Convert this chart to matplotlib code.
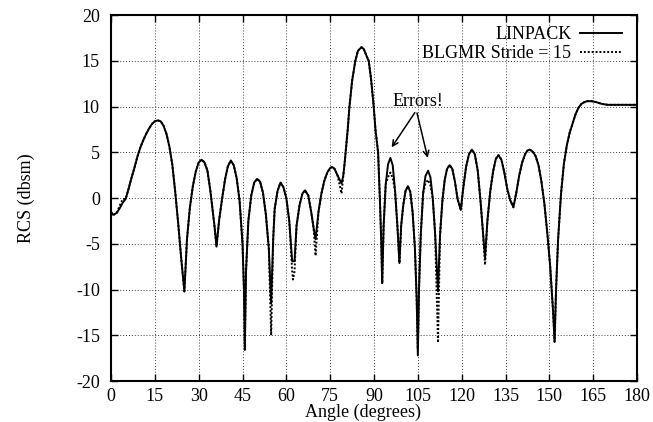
import numpy as np
import matplotlib
matplotlib.use("Agg")
import matplotlib.pyplot as plt

# angle (deg) / RCS (dbsm)
angle = [0, 0.6, 1, 2, 3, 4, 5, 6, 7, 8, 9, 10, 11, 12, 13, 14, 15, 16, 17, 18,
         19, 20, 21, 22, 23, 24, 25.1,
         26, 27, 28, 29, 30, 31, 32, 33, 34, 35, 35.5, 36.1,
         37, 38, 39, 40, 41, 42, 43, 44, 45, 45.5, 45.8,
         46.2, 47, 48, 49, 50, 51, 52, 53, 54, 54.8,
         55.5, 56, 57, 58, 59, 60, 61, 62.0, 62.3, 62.8,
         63.5, 64.5, 65.5, 66.4, 67.5, 68.5, 69.3, 70,
         71, 72, 73, 74, 75, 75.7, 76.5, 77.5, 78.9,
         79.5, 80, 81, 81.6, 82.5, 83.6, 84.5, 85.7, 86.5, 87.5, 88.2, 89, 89.9,
         90.5, 91.4, 92, 92.5, 92.8,
         93.3, 94, 94.8, 95.6, 96.4, 97.2, 98, 98.7,
         99.3, 100, 100.8, 101.6, 102.4, 103.2, 104, 104.6, 105,
         105.4, 106, 106.8, 107.6, 108.5, 109.3, 110.1, 110.9, 111.9,
         112.6, 113.4, 114.2, 115, 115.9, 116.8, 117.7, 118.6, 119.7,
         120.5, 121.5, 122.5, 123.5, 124.5, 125.5, 126.5, 127.3, 128,
         128.8, 129.8, 130.8, 131.7, 132.6, 133.6, 134.6, 135.6, 136.6, 137.7,
         138.7, 139.7, 140.7, 141.7, 142.5, 143.3, 144.3, 145.3, 146.3, 147.3,
         148.3, 149.3, 150.3, 151.3, 151.8,
         152.3, 153, 154, 155, 156, 157, 158, 159, 160, 161, 162, 163, 164.4,
         166, 168, 170, 175, 180]

linpack = [-1.5, -1.8, -1.8, -1.6, -1.1, -0.5, -0.1, 1.0, 2.2, 3.3, 4.5, 5.5, 6.3, 7.0, 7.6, 8.1, 8.4, 8.5, 8.4, 7.9,
           7.0, 5.6, 3.6, 0.6, -2.8, -6.5, -10.2,
           -4.5, -1.0, 1.3, 2.9, 3.9, 4.2, 3.9, 3.0, 0.8, -2.0, -3.3, -5.3,
           -2.4, -0.1, 2.0, 3.5, 4.1, 3.6, 2.2, -0.3, -5.0, -10.0, -16.6,
           -8.0, -2.5, 0.3, 1.7, 2.1, 1.8, 0.6, -1.8, -5.5, -11.5,
           -4.5, -1.2, 0.8, 1.7, 1.2, 0.0, -2.5, -6.9, -6.9, -6.9,
           -3.0, -0.8, 0.5, 0.85, 0.3, -1.5, -3.2, -4.5,
           -1.5, 0.5, 1.9, 2.8, 3.3, 3.4, 3.2, 2.5, 1.6,
           2.5, 4.0, 7.5, 10.0, 12.8, 15.0, 16.1, 16.5, 16.3, 15.5, 15.0, 13.0, 10.0,
           7.5, 5.0, 0.0, -5.0, -9.3,
           -3.0, 1.5, 3.7, 4.4, 3.6, 0.8, -3.0, -7.1,
           -3.0, -0.8, 0.8, 1.3, 0.7, -1.5, -5.5, -11.0, -17.2,
           -10.0, -4.0, 0.5, 2.4, 3.0, 2.3, 0.0, -3.8, -10.2,
           -4.0, -0.3, 2.0, 3.2, 3.6, 3.2, 1.8, -0.1, -1.3,
           1.0, 3.4, 4.8, 5.3, 4.8, 3.0, -0.5, -3.8, -6.5,
           -2.5, 0.8, 3.0, 4.3, 4.7, 4.2, 2.8, 1.0, -0.2, -1.0,
           0.6, 2.5, 3.9, 4.8, 5.2, 5.3, 5.1, 4.6, 3.6, 1.8,
           -0.6, -3.8, -7.5, -12.5, -15.7,
           -10.0, -4.5, 0.5, 3.8, 5.8, 7.2, 8.2, 9.2, 9.9, 10.3, 10.5, 10.6, 10.6,
           10.5, 10.3, 10.2, 10.2, 10.2]

# places where the BLGMR curve leaves the LINPACK one
blgmr_diff = {3: -0.8, 4: -0.1, 45.8: -15.8, 54.8: -15.0,
              62.0: -8.0, 62.3: -8.9, 62.8: -8.0, 70: -6.3, 78.9: 0.5,
              94.8: 2.3, 95.6: 2.8, 96.4: 2.2,
              105: -16.5, 107.6: 1.6, 108.5: 2.0, 109.3: 1.4,
              111.9: -15.8, 128: -7.3}

blgmr = [blgmr_diff.get(a, v) for a, v in zip(angle, linpack)]

plt.rcParams['font.family'] = ['Liberation Serif', 'DejaVu Serif']
plt.rcParams['font.size'] = 13
plt.rcParams['axes.unicode_minus'] = False

fig = plt.figure(figsize=(6.53, 4.22), dpi=100)
ax = fig.add_axes([0.170, 0.097, 0.8055, 0.867])

ax.plot(angle, linpack, color='black', lw=1.4, label='LINPACK')
ax.plot(angle, blgmr, color='black', lw=1.4, linestyle=(0, (1, 1)),
        label='BLGMR Stride = 15')

ax.set_xlim(0, 180)
ax.set_ylim(-20, 20)
ax.set_xticks(np.arange(0, 181, 15))
ax.set_yticks(np.arange(-20, 21, 5))
ax.grid(True, color='0.25', lw=0.7, linestyle=(0, (1, 2)))
ax.tick_params(direction='in', top=True, right=True, length=5, width=1)
ax.tick_params(axis='x', pad=5)
ax.tick_params(axis='y', pad=8)
for s in ax.spines.values():
    s.set_linewidth(1.5)

ax.set_xlabel('Angle (degrees)', va='center')
ax.set_ylabel('RCS (dbsm)')
ax.xaxis.set_label_coords(0.48, -0.085)
ax.yaxis.set_label_coords(-0.145, 0.5)

ax.legend(loc='upper right', bbox_to_anchor=(0.985, 0.99), frameon=False,
          markerfirst=False, handlelength=2.3, handletextpad=0.5,
          labelspacing=0.1, borderaxespad=0.0)

ax.text(105, 10.6, 'Errors!', ha='center', va='center')
for tgt in [(95.5, 5.3), (108.6, 4.1)]:
    ax.annotate('', xy=tgt, xytext=(104.5, 9.6),
                arrowprops=dict(arrowstyle='->', color='black', lw=1.1,
                                mutation_scale=10))

fig.savefig('out.png', dpi=100)
